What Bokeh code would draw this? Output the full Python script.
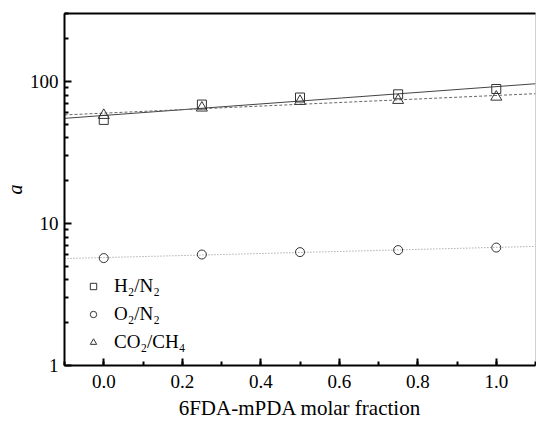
import numpy as np
from bokeh.plotting import figure
from bokeh.models import (FixedTicker, SingleIntervalTicker, PrintfTickFormatter,
                          LinearAxis, Legend, LegendItem, ColumnDataSource, Range1d)
from bokeh.embed import file_html
from bokeh.resources import INLINE

# ---- data ----
fraction = [0.0, 0.25, 0.5, 0.75, 1.0]
h2_n2 = [53.5, 68.6, 76.9, 81.0, 88.3]
o2_n2 = [5.70, 6.04, 6.28, 6.49, 6.76]
co2_ch4 = [57.7, 65.0, 72.4, 73.6, 77.6]
labels = ["H\u2082/N\u2082", "O\u2082/N\u2082", "CO\u2082/CH\u2084"]
fit_x = [-0.1, 1.1]

FONT = "Liberation Serif"

p = figure(width=536, height=422, y_axis_type="log",
           x_range=Range1d(-0.1, 1.1), y_range=Range1d(1, 300),
           output_backend="svg", toolbar_location=None,
           min_border_left=63, min_border_right=1, min_border_top=13, min_border_bottom=56)
p.grid.visible = False
p.outline_line_color = "#d0d0d0"
p.outline_line_width = 1
p.background_fill_color = "white"


def loglin_fit(xs, ys):
    k, b = np.polyfit(np.array(xs), np.log10(np.array(ys)), 1)
    return [10 ** (k * x + b) for x in fit_x]


p.line(fit_x, loglin_fit(fraction, h2_n2), line_color="#444444", line_width=1)
p.line(fit_x, loglin_fit(fraction, co2_ch4), line_color="#666666", line_width=1, line_dash="3 2")
p.line(fit_x, loglin_fit(fraction, o2_n2), line_color="#888888", line_width=1, line_dash="1 2")

mk = "#333333"
p.scatter(fraction, h2_n2, marker="square", size=9, fill_color=None, line_color=mk, line_width=1)
p.scatter(fraction, o2_n2, marker="circle", size=9, fill_color=None, line_color=mk, line_width=1)
p.scatter(fraction, co2_ch4, marker="triangle", size=11, fill_color=None, line_color=mk, line_width=1)

# legend-only renderers (NaN data, smaller markers)
def legend_src():
    return ColumnDataSource(dict(x=[np.nan], y=[np.nan]))

r1 = p.scatter("x", "y", source=legend_src(), marker="square", size=7,
               fill_color=None, line_color=mk, line_width=1)
r2 = p.scatter("x", "y", source=legend_src(), marker="circle", size=7,
               fill_color=None, line_color=mk, line_width=1)
r3 = p.scatter("x", "y", source=legend_src(), marker="triangle", size=9,
               fill_color=None, line_color=mk, line_width=1)
legend = Legend(items=[LegendItem(label=labels[0], renderers=[r1], index=0),
                       LegendItem(label=labels[1], renderers=[r2], index=0),
                       LegendItem(label=labels[2], renderers=[r3], index=0)],
                location=(21, 12), border_line_color=None, background_fill_alpha=0,
                padding=0, margin=0, spacing=6, glyph_width=16, glyph_height=20,
                label_height=20, label_standoff=13, label_text_color="black",
                label_text_font=FONT, label_text_font_size="19px")
p.add_layout(legend)

# x axis
xa = p.xaxis[0]
xa.ticker = SingleIntervalTicker(interval=0.2, num_minor_ticks=2)
xa.formatter = PrintfTickFormatter(format="%.1f")
xa.axis_label = "6FDA-mPDA molar fraction"
xa.axis_label_text_font_style = "normal"
# y axis
ya = p.yaxis[0]
ya.ticker = FixedTicker(ticks=[1, 10, 100],
                        minor_ticks=[2, 3, 4, 5, 6, 7, 8, 9, 20, 30, 40, 50, 60, 70, 80, 90, 200, 300])
ya.formatter = PrintfTickFormatter(format="%d")
ya.axis_label = "a"
ya.axis_label_text_font_style = "italic"

for ax in (xa, ya):
    ax.axis_line_width = 2
    ax.axis_line_color = "black"
    ax.major_tick_in = 7
    ax.major_tick_out = 0
    ax.minor_tick_in = 4
    ax.minor_tick_out = 0
    ax.major_tick_line_width = 2
    ax.minor_tick_line_width = 2
    ax.major_label_text_font = FONT
    ax.major_label_text_font_size = "19px"
    ax.axis_label_text_font = FONT
    ax.axis_label_text_font_size = "21px"
    ax.major_label_text_color = "black"
    ax.axis_label_text_color = "black"
xa.major_label_standoff = 9
xa.axis_label_standoff = 5
ya.major_label_standoff = 6
ya.axis_label_standoff = 1
ya.axis_label_text_font_size = "20px"

top = LinearAxis(ticker=FixedTicker(ticks=[]), axis_line_width=2, axis_line_color="black",
                 major_tick_in=0, major_tick_out=0, minor_tick_in=0, minor_tick_out=0,
                 major_label_text_font_size="0px", major_label_standoff=0)
p.add_layout(top, "above")

open("out.html", "w").write(file_html(p, INLINE))
